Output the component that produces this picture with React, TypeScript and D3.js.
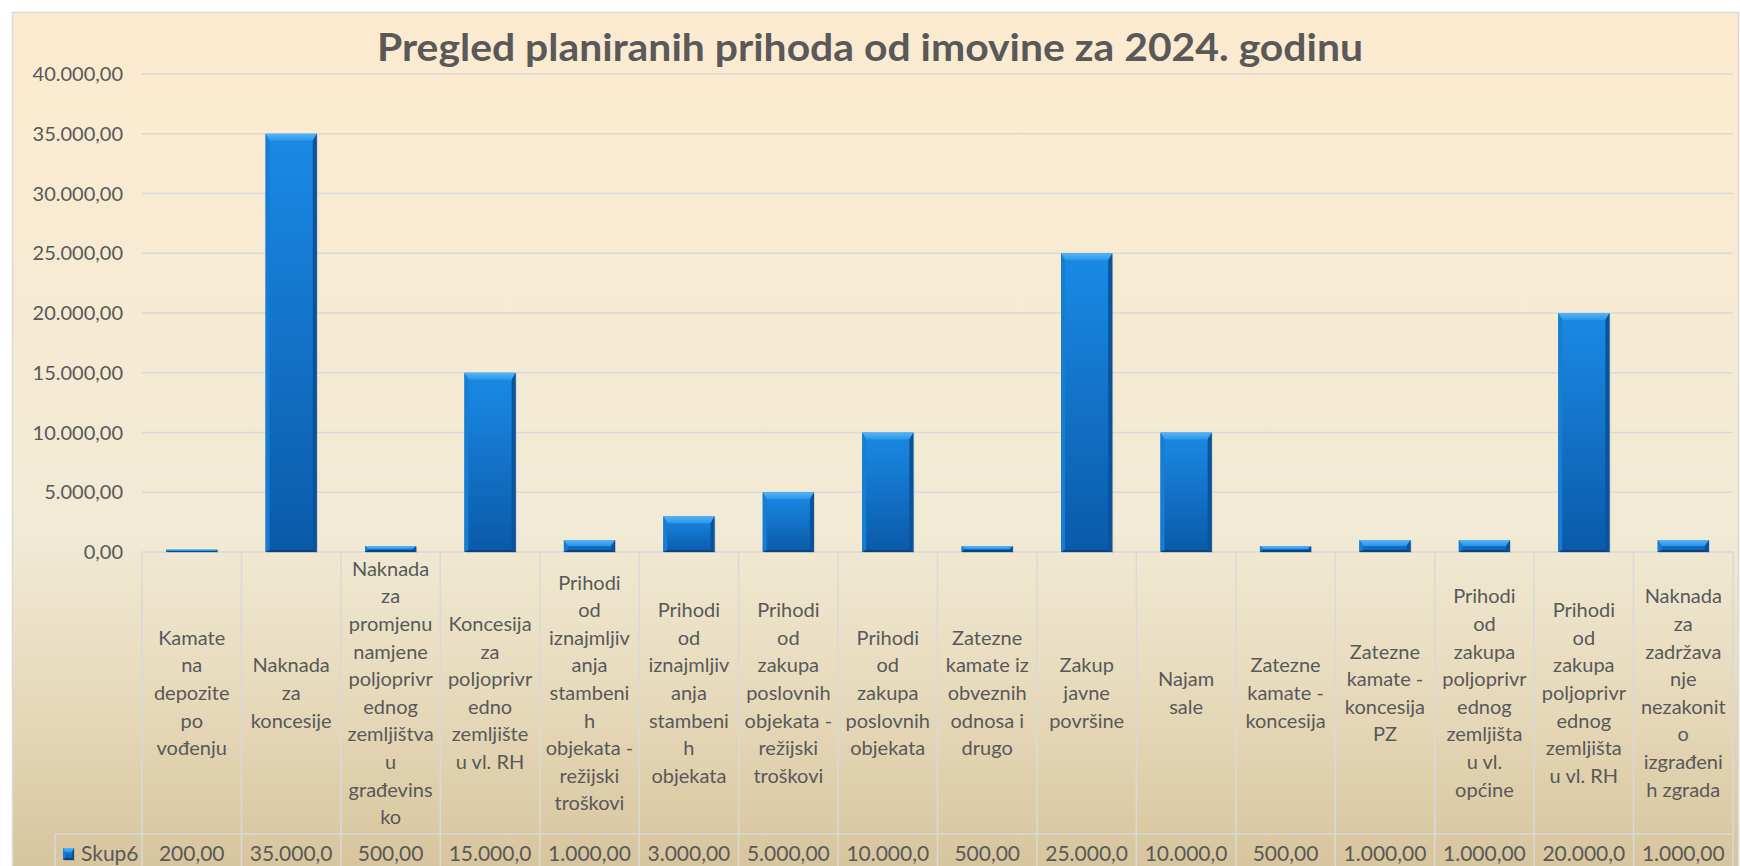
import React from "react";
import * as d3 from "d3";

const title = "Pregled planiranih prihoda od imovine za 2024. godinu";
const seriesName = "Skup6";
const categories: string[][] = [
  ["Kamate", "na", "depozite", "po", "vođenju"],
  ["Naknada", "za", "koncesije"],
  ["Naknada", "za", "promjenu", "namjene", "poljoprivr", "ednog", "zemljištva", "u", "građevins", "ko"],
  ["Koncesija", "za", "poljoprivr", "edno", "zemljište", "u vl. RH"],
  ["Prihodi", "od", "iznajmljiv", "anja", "stambeni", "h", "objekata -", "režijski", "troškovi"],
  ["Prihodi", "od", "iznajmljiv", "anja", "stambeni", "h", "objekata"],
  ["Prihodi", "od", "zakupa", "poslovnih", "objekata -", "režijski", "troškovi"],
  ["Prihodi", "od", "zakupa", "poslovnih", "objekata"],
  ["Zatezne", "kamate iz", "obveznih", "odnosa i", "drugo"],
  ["Zakup", "javne", "površine"],
  ["Najam", "sale"],
  ["Zatezne", "kamate -", "koncesija"],
  ["Zatezne", "kamate -", "koncesija", "PZ"],
  ["Prihodi", "od", "zakupa", "poljoprivr", "ednog", "zemljišta", "u vl.", "općine"],
  ["Prihodi", "od", "zakupa", "poljoprivr", "ednog", "zemljišta", "u vl. RH"],
  ["Naknada", "za", "zadržava", "nje", "nezakonit", "o", "izgrađeni", "h zgrada"],
];
const values: number[] = [200, 35000, 500, 15000, 1000, 3000, 5000, 10000, 500, 25000, 10000, 500, 1000, 1000, 20000, 1000];
const yTicks: number[] = [0, 5000, 10000, 15000, 20000, 25000, 30000, 35000, 40000];

const locale = d3.formatLocale({ decimal: ",", thousands: ".", grouping: [3], currency: ["", ""] });
const fmt = locale.format(",.2f");

const W = 1740;
const H = 866;
const FONT = "Lato, 'Open Sans', sans-serif";
const TXT = "#595959";
const GRID = "#d9d9d9";

function Bar({ x0, x1, yT, yB, bt, bs }: { x0: number; x1: number; yT: number; yB: number; bt: number; bs: number }) {
  const h = yB - yT;
  const w = x1 - x0;
  const t = Math.min(bt, h / 2, w / 2);
  const s = Math.min(bs, h / 2, w / 2);
  const bb = Math.min(2, h / 3);
  return (
    <g>
      <rect x={x0 + 1} y={yT + 1} width={w} height={h} fill="rgba(90,80,60,0.18)" />
      <rect x={x0} y={yT} width={w} height={h} fill="url(#barBody)" />
      <polygon points={`${x0},${yT} ${x1},${yT} ${x1 - s},${yT + t} ${x0 + s},${yT + t}`} fill="url(#barTop)" />
      <polygon points={`${x0},${yT} ${x0 + s},${yT + t} ${x0 + s},${yB - bb} ${x0},${yB}`} fill="#177dd3" />
      <polygon points={`${x1},${yT} ${x1 - s},${yT + t} ${x1 - s},${yB - bb} ${x1},${yB}`} fill="#0a529c" />
      <polygon points={`${x0},${yB} ${x0 + s},${yB - bb} ${x1 - s},${yB - bb} ${x1},${yB}`} fill="#08457f" />
    </g>
  );
}

export default function App() {
  const left = 142;
  const right = 1733;
  const y = d3.scaleLinear().domain([0, 40000]).range([552, 74]);
  const x = d3.scaleBand<number>().domain(d3.range(categories.length)).range([left, right]).padding(0);
  const bw = x.bandwidth();
  const barW = bw * 0.515;
  const tableTop = y(0);
  const rowTop = 834;
  const legendLeft = 55;
  const lineH = 27.6;
  const catCenter = (tableTop + rowTop) / 2;

  return (
    <svg width={W} height={H} style={{ position: "absolute", left: 0, top: 0, display: "block" }} fontFamily={FONT}>
      <defs>
        <linearGradient id="bg" x1="0" y1="0" x2="0" y2="1">
          <stop offset="0" stopColor="#fdebd0" />
          <stop offset="0.6" stopColor="#f1ead5" />
          <stop offset="0.8" stopColor="#e6d9ba" />
          <stop offset="1" stopColor="#d5c39b" />
        </linearGradient>
        <linearGradient id="barBody" x1="0" y1="0" x2="0" y2="1">
          <stop offset="0" stopColor="#1a8ae6" />
          <stop offset="1" stopColor="#0b5aa9" />
        </linearGradient>
        <linearGradient id="barTop" x1="0" y1="0" x2="0" y2="1">
          <stop offset="0" stopColor="#55b5f6" />
          <stop offset="1" stopColor="#2a96e9" />
        </linearGradient>
      </defs>
      <rect x={0} y={0} width={W} height={H} fill="#ffffff" />
      <rect x={12.5} y={12.5} width={1726} height={H} fill="url(#bg)" stroke={GRID} strokeWidth={1.5} />

      <text x={W / 2} y={61} textAnchor="middle" fontSize={38} fontWeight="bold" fill={TXT} textLength={986} lengthAdjust="spacingAndGlyphs">
        {title}
      </text>

      {yTicks.map((t) => (
        <g key={t}>
          <line x1={left} x2={right} y1={y(t)} y2={y(t)} stroke={GRID} strokeWidth={1.5} />
          <text x={123} y={y(t)} dy="0.35em" textAnchor="end" fontSize={20} fill={TXT}>
            {fmt(t)}
          </text>
        </g>
      ))}

      {values.map((v, i) => {
        const cx = (x(i) as number) + bw / 2;
        return <Bar key={i} x0={cx - barW / 2} x1={cx + barW / 2} yT={y(v)} yB={y(0)} bt={7} bs={4} />;
      })}

      {/* table grid */}
      {d3.range(categories.length + 1).map((i) => {
        const xx = i < categories.length ? (x(i) as number) : right;
        return <line key={i} x1={xx} x2={xx} y1={tableTop} y2={H} stroke={GRID} strokeWidth={1.5} />;
      })}
      <line x1={legendLeft} x2={right} y1={rowTop} y2={rowTop} stroke={GRID} strokeWidth={1.5} />
      <line x1={legendLeft} x2={legendLeft} y1={rowTop} y2={H} stroke={GRID} strokeWidth={1.5} />

      {categories.map((lines, i) => {
        const cx = (x(i) as number) + bw / 2;
        const y0 = catCenter - ((lines.length - 1) * lineH) / 2;
        return (
          <text key={i} textAnchor="middle" fontSize={20} fill={TXT}>
            {lines.map((l, j) => (
              <tspan key={j} x={cx} y={y0 + j * lineH} dy="0.35em">
                {l}
              </tspan>
            ))}
          </text>
        );
      })}

      <Bar x0={63} x1={74} yT={848} yB={860} bt={4} bs={2} />
      <text x={81} y={861} fontSize={21} fill={TXT}>
        {seriesName}
      </text>
      {values.map((v, i) => {
        const cx = (x(i) as number) + bw / 2;
        return (
          <text key={i} x={cx} y={861} textAnchor="middle" fontSize={21} fill={TXT}>
            {fmt(v).slice(0, 8)}
          </text>
        );
      })}
    </svg>
  );
}
